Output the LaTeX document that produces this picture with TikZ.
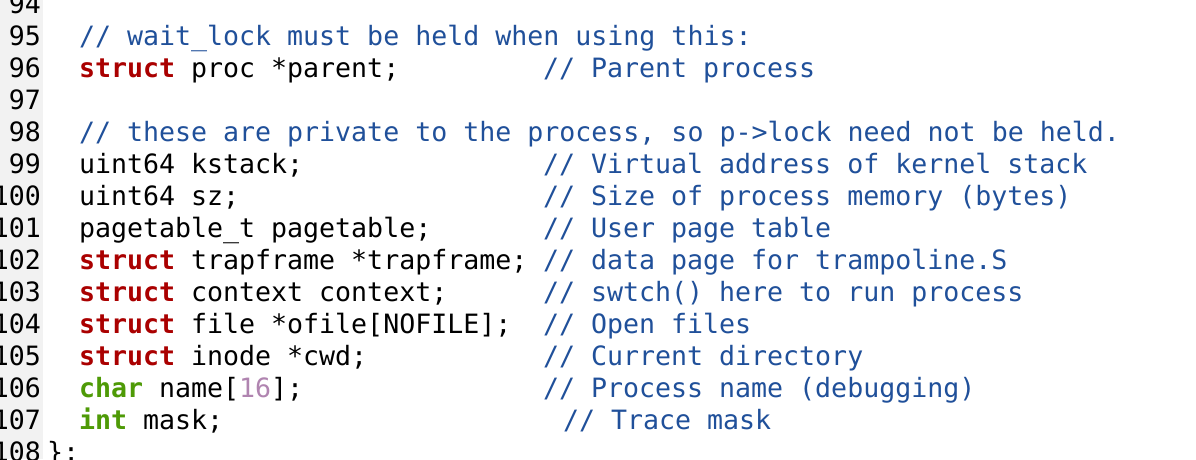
\documentclass[tikz,border=0pt]{standalone}
\usepackage{fontspec}
\newfontfamily\codefont{DejaVu Sans Mono}
\definecolor{kwred}{HTML}{AA0000}
\definecolor{kwgreen}{HTML}{4E9A06}
\definecolor{numpurple}{HTML}{B084B0}
\definecolor{cmtblue}{HTML}{20509A}
\definecolor{gutter}{HTML}{F2F2F2}
\newcommand{\kw}[1]{\textcolor{kwred}{\bfseries #1}}
\newcommand{\ty}[1]{\textcolor{kwgreen}{\bfseries #1}}
\newcommand{\nm}[1]{\textcolor{numpurple}{#1}}
\begin{document}
\begin{tikzpicture}[x=1pt,y=1pt,
  txt/.style={inner sep=0pt,outer sep=0pt,anchor=base west,font=\codefont\fontsize{26.6}{32}\selectfont},
  lnum/.style={txt,anchor=base east},
  cmt/.style={txt,text=cmtblue}]
\useasboundingbox (0,0) rectangle (1196,-459);
\fill[white] (0,0) rectangle (1196,-459);
\fill[gutter] (0,0) rectangle (43,-459);
% line numbers
\foreach \n [count=\i from 0] in {94,...,108}{
  \node[lnum] (ln\n) at (41,{-(13+32*\i)}) {\n};
}
% code
\node[cmt] (c95) at (79,-45) {// wait\_lock must be held when using this:};
\node[txt] (l96) at (79,-77) {\kw{struct} proc *parent;};
\node[cmt] (c96) at (543,-77) {// Parent process};
\node[cmt] (c98) at (79,-141) {// these are private to the process, so p->lock need not be held.};
\node[txt] (l99) at (79,-173) {uint64 kstack;};
\node[cmt] (c99) at (543,-173) {// Virtual address of kernel stack};
\node[txt] (l100) at (79,-205) {uint64 sz;};
\node[cmt] (c100) at (543,-205) {// Size of process memory (bytes)};
\node[txt] (l101) at (79,-237) {pagetable\_t pagetable;};
\node[cmt] (c101) at (543,-237) {// User page table};
\node[txt] (l102) at (79,-269) {\kw{struct} trapframe *trapframe;};
\node[cmt] (c102) at (543,-269) {// data page for trampoline.S};
\node[txt] (l103) at (79,-301) {\kw{struct} context context;};
\node[cmt] (c103) at (543,-301) {// swtch() here to run process};
\node[txt] (l104) at (79,-333) {\kw{struct} file *ofile[NOFILE];};
\node[cmt] (c104) at (543,-333) {// Open files};
\node[txt] (l105) at (79,-365) {\kw{struct} inode *cwd;};
\node[cmt] (c105) at (543,-365) {// Current directory};
\node[txt] (l106) at (79,-397) {\ty{char} name[\nm{16}];};
\node[cmt] (c106) at (543,-397) {// Process name (debugging)};
\node[txt] (l107) at (79,-429) {\ty{int} mask;};
\node[cmt] (c107) at (563,-429) {// Trace mask};
\node[txt] (l108) at (47,-461) {\};};
\end{tikzpicture}
\end{document}
